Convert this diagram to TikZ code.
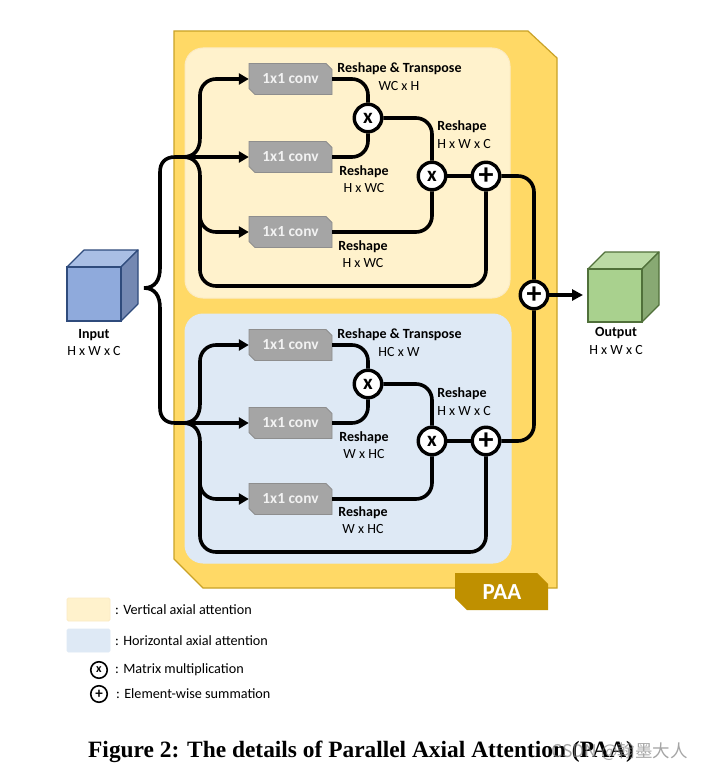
\documentclass[tikz,border=0pt]{standalone}
\usepackage{fontspec}
\setmainfont{Carlito}
\newfontfamily\capfont{Liberation Serif}
\newfontfamily\cjkmark{Noto Sans CJK SC}
\usetikzlibrary{arrows.meta,calc}
\definecolor{panelgold}{HTML}{FFD966}
\definecolor{paneledge}{HTML}{C9A227}
\definecolor{tagbrown}{HTML}{BF9000}
\definecolor{vertfill}{HTML}{FFF2CC}
\definecolor{vertedge}{HTML}{FBEBC4}
\definecolor{horizfill}{HTML}{DEE9F5}
\definecolor{convgray}{HTML}{A5A5A5}
\definecolor{convedge}{HTML}{8E8E8E}
\definecolor{bluefront}{HTML}{8FAADC}
\definecolor{bluetop}{HTML}{A9BEE4}
\definecolor{blueside}{HTML}{7488B2}
\definecolor{blueedge}{HTML}{2F4B7C}
\definecolor{greenfront}{HTML}{A9D18E}
\definecolor{greentop}{HTML}{BBDAA5}
\definecolor{greenside}{HTML}{88A973}
\definecolor{greenedge}{HTML}{50703A}
\tikzset{
  x=1pt,y=-1pt,
  flow/.style={line width=3.6pt,black,rounded corners=16pt},
  headed/.style={flow,-{Triangle[length=10pt,width=11pt]}},
  bracestroke/.style={line width=3.6pt,black},
  boldlab/.style={font=\bfseries\fontsize{14}{16}\selectfont,inner sep=0pt,yshift=-1pt},
  lab/.style={font=\fontsize{14}{16}\selectfont,inner sep=0pt,yshift=-.6pt},
  legendlab/.style={font=\fontsize{14.2}{16}\selectfont,inner sep=0pt,anchor=west},
  opnode/.style={circle,draw=black,fill=white,line width=3.4pt,minimum size=27.5pt,inner sep=0pt,font=\bfseries\fontsize{21}{21}\selectfont},
  plusnode/.style={opnode,font=\bfseries\fontsize{30}{30}\selectfont},
  legendop/.style={circle,draw=black,fill=white,line width=1.6pt,minimum size=16.5pt,inner sep=0pt,font=\bfseries\fontsize{12}{12}\selectfont},
  legendplus/.style={legendop,font=\bfseries\fontsize{15}{15}\selectfont},
  convlabel/.style={font=\bfseries\fontsize{15.4}{17}\selectfont,text=white!95!black,inner sep=0pt,minimum width=83pt,minimum height=31pt},
  axialbox/.style={line width=1pt,rounded corners=18pt},
  swatch/.style={rounded corners=1.5pt,line width=.8pt},
}
% snipped-corner block with its label, centred on the given point
\newcommand{\convblock}[3]{%
  \draw[fill=convgray,draw=convedge,line width=.8pt]
    (#1-41.5,#2-15.5) -- (#1+35.5,#2-15.5) -- (#1+41.5,#2-9.5)
    -- (#1+41.5,#2+15.5) -- (#1-35.5,#2+15.5) -- (#1-41.5,#2+9.5) -- cycle;
  \node[convlabel] (#3) at (#1,#2) {1x1 conv};
}
% cube: front-face left, top, right, bottom, then colours and node name
\newcommand{\cubeshape}[9]{%
  \draw[fill=#5,draw=#8,line width=1.2pt,line join=round]
    (#1,#2) -- (#1+17,#2-17) -- (#3+17,#2-17) -- (#3,#2) -- cycle;
  \draw[fill=#6,draw=#8,line width=1.2pt,line join=round]
    (#3,#2) -- (#3+17,#2-17) -- (#3+17,#4-17) -- (#3,#4) -- cycle;
  \draw[fill=#7,draw=#8,line width=1.2pt] (#1,#2) rectangle (#3,#4);
  \coordinate (#9) at ({(#1+#3)/2},{(#2+#4)/2});
}
\begin{document}
\begin{tikzpicture}
\useasboundingbox (0,0) rectangle (703,768);
\fill[white] (0,0) rectangle (703,768);

% outer PAA panel
\draw[fill=panelgold,draw=paneledge,line width=1.2pt]
  (174,31) -- (528,31) -- (557,58) -- (557,588) -- (203,588) -- (174,559) -- cycle;
\draw[axialbox,fill=vertfill,draw=vertedge] (185,48) rectangle (510,298);
\draw[axialbox,fill=horizfill,draw=horizfill] (185,314) rectangle (511,563);

% PAA tag
\fill[tagbrown] (455,573) -- (537,573) -- (548,584) -- (548,610) -- (467,610) -- (455,598) -- cycle;
\node[font=\bfseries\fontsize{23}{25}\selectfont,text=white,inner sep=0pt] (paa) at (502,592) {PAA};

% input and output cubes
\cubeshape{67}{267}{121}{321}{bluetop}{blueside}{bluefront}{blueedge}{incube}
\cubeshape{588}{269}{642}{322}{greentop}{greenside}{greenfront}{greenedge}{outcube}
\node[boldlab] (inname) at (94,334) {Input};
\node[lab] (inshape) at (94,350) {H x W x C};
\node[boldlab] (outname) at (616,332) {Output};
\node[lab] (outshape) at (616,349) {H x W x C};

% upper branch: blocks and operators
\convblock{290.5}{79}{ca}
\convblock{290.5}{157}{cb}
\convblock{290.5}{232}{cc}
\node[opnode] (xa) at (368,118) {x};
\node[opnode] (xb) at (432,176) {x};
\node[plusnode] (sa) at (486,176) {+};

% lower branch: blocks and operators
\convblock{290.5}{345}{cd}
\convblock{290.5}{423}{ce}
\convblock{290.5}{499}{cf}
\node[opnode] (xc) at (368,384) {x};
\node[opnode] (xd) at (432,441) {x};
\node[plusnode] (sb) at (486,441) {+};

% final summation
\node[plusnode] (sc) at (534,295) {+};
\coordinate (outtip) at (583,295);
\draw[flow,-{Triangle[length=11pt,width=11pt]}] (sc.east) -- (outtip);

% splitting brace from the input
\coordinate (tip) at (144,288);
\coordinate (ju) at (183,157);
\coordinate (jl) at (183,423);
\draw[bracestroke] (tip) .. controls (155,288) and (160,280) .. (160,268) -- (160,172)
  .. controls (160,163) and (165,157) .. (175,157) -- (ju);
\draw[bracestroke] (tip) .. controls (155,288) and (160,296) .. (160,308) -- (160,408)
  .. controls (160,417) and (165,423) .. (175,423) -- (jl);

% upper branch connectors
\draw[bracestroke] (ju) .. controls (194,157) and (200,150) .. (200,138) coordinate (ua);
\draw[headed] (ua) |- (ca.west);
\draw[headed] (ju) -- (cb.west);
\draw[bracestroke] (ju) .. controls (194,157) and (200,164) .. (200,176) coordinate (ub);
\draw[headed] (ub) |- (cc.west);
\draw[flow] (ub) -- (200,286) -- (486,286) -- (sa.south);
\draw[flow] (ca.east) -| (xa.north);
\draw[flow] (cb.east) -| (xa.south);
\draw[flow] (xa.east) -| (xb.north);
\draw[flow] (cc.east) -| (xb.south);
\draw[flow] (xb.east) -- (sa.west);

% lower branch connectors
\draw[bracestroke] (jl) .. controls (194,423) and (200,416) .. (200,404) coordinate (la);
\draw[headed] (la) |- (cd.west);
\draw[headed] (jl) -- (ce.west);
\draw[bracestroke] (jl) .. controls (194,423) and (200,430) .. (200,442) coordinate (lb);
\draw[headed] (lb) |- (cf.west);
\draw[flow] (lb) -- (200,552) -- (486,552) -- (sb.south);
\draw[flow] (cd.east) -| (xc.north);
\draw[flow] (ce.east) -| (xc.south);
\draw[flow] (xc.east) -| (xd.north);
\draw[flow] (cf.east) -| (xd.south);
\draw[flow] (xd.east) -- (sb.west);

% branch outputs into the final summation
\draw[flow] (sa.east) -| (sc.north);
\draw[flow] (sb.east) -| (sc.south);

% upper branch labels
\node[boldlab] (t1) at (399.5,68) {Reshape \& Transpose};
\node[lab] (t2) at (399,85) {WC x H};
\node[boldlab] (t3) at (462,126) {Reshape};
\node[lab] (t4) at (464,143) {H x W x C};
\node[boldlab] (t5) at (364,171) {Reshape};
\node[lab] (t6) at (364,187) {H x WC};
\node[boldlab] (t7) at (363,246) {Reshape};
\node[lab] (t8) at (363,262) {H x WC};

% lower branch labels
\node[boldlab] (b1) at (399.5,334) {Reshape \& Transpose};
\node[lab] (b2) at (399,351) {HC x W};
\node[boldlab] (b3) at (462,393) {Reshape};
\node[lab] (b4) at (464,410) {H x W x C};
\node[boldlab] (b5) at (364,437) {Reshape};
\node[lab] (b6) at (364,453) {W x HC};
\node[boldlab] (b7) at (363,512) {Reshape};
\node[lab] (b8) at (363,528) {W x HC};

% legend
\draw[swatch,fill=vertfill,draw=vertedge] (67,598) rectangle (110,621);
\draw[swatch,fill=horizfill,draw=horizfill] (67,629) rectangle (110,652);
\node[legendop] (lx) at (99,670) {x};
\node[legendplus] (lp) at (99,694) {+};
\node[legendlab] (l1) at (115,610) {: Vertical axial attention};
\node[legendlab] (l2) at (115,641) {: Horizontal axial attention};
\node[legendlab] (l3) at (115,670) {: Matrix multiplication};
\node[legendlab] (l4) at (116,694) {: Element-wise summation};

% caption and overprinted credit
\node[font=\capfont\bfseries\fontsize{23.4}{26}\selectfont,inner sep=0pt,anchor=base west] (cap) at (88,757)
  {Figure 2: The details of Parallel Axial Attention (PAA)};
\node[font=\cjkmark\fontsize{17.5}{20}\selectfont,text=gray,opacity=.7,inner sep=0pt,anchor=base east] (credit) at (688,757)
  {CSDN @翰墨大人};
\end{tikzpicture}
\end{document}
